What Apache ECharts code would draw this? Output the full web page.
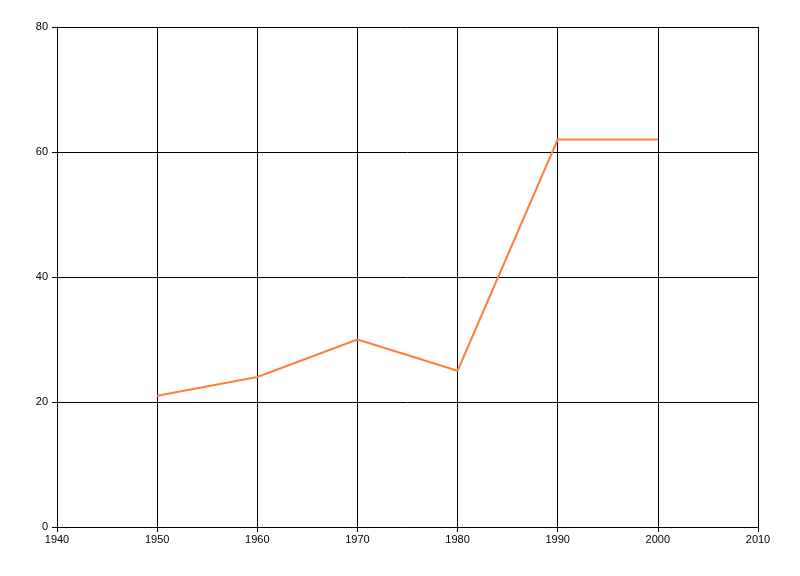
<!DOCTYPE html>
<html>
<head>
<meta charset="utf-8">
<script src="https://cdn.jsdelivr.net/npm/echarts@6/dist/echarts.min.js"></script>
<style>
  html, body { margin: 0; padding: 0; background: #fff; }
  #chart { width: 800px; height: 576px; }
</style>
</head>
<body>
<div id="chart"></div>
<script>
// data
const years = [1950, 1960, 1970, 1980, 1990, 2000];
const values = [21, 24, 30, 25, 62, 62];

const myChart = echarts.init(document.getElementById('chart'));
const axisText = { color: '#000', fontFamily: 'Liberation Sans', fontSize: 11 };
const blackLine = { lineStyle: { color: '#000', width: 1 } };

const option = {
    animation: false,
    grid: { left: 57, right: 42, top: 27, bottom: 49 },
    xAxis: {
        type: 'value',
        min: 1940,
        max: 2010,
        interval: 10,
        axisLine: { show: true, ...blackLine },
        axisTick: { show: true, length: 5, ...blackLine },
        axisLabel: { ...axisText, margin: 7, formatter: (v) => String(v) },
        splitLine: { show: true, ...blackLine },
    },
    yAxis: {
        type: 'value',
        min: 0,
        max: 80,
        interval: 20,
        axisLine: { show: true, ...blackLine },
        axisTick: { show: true, length: 5, ...blackLine },
        axisLabel: { ...axisText, margin: 9, formatter: (v) => String(v) },
        splitLine: { show: true, ...blackLine },
    },
    series: [
        {
            type: 'line',
            data: years.map((y, i) => [y, values[i]]),
            showSymbol: false,
            lineStyle: { color: '#FF7F3F', width: 2 },
            itemStyle: { color: '#FF7F3F' },
        },
    ],
};
myChart.setOption(option);
</script>
</body>
</html>
